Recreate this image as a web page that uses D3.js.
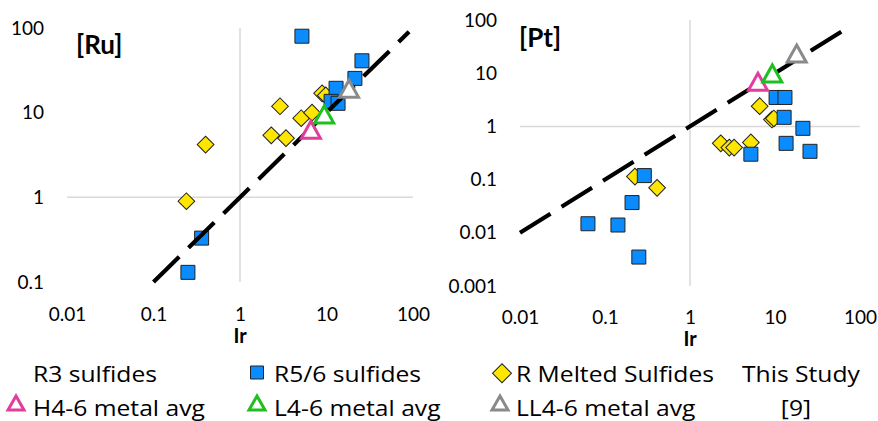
<!DOCTYPE html>
<html>
<head>
<meta charset="utf-8">
<script src="https://d3js.org/d3.v7.min.js"></script>
<style>
  body { margin: 0; background: #fff; }
  text { font-family: Lato, "Open Sans", sans-serif; fill: #000; }
  text.leg { font-family: "Open Sans", sans-serif; }
</style>
</head>
<body>
<svg id="chart" width="878" height="421"></svg>
<script>
// tick values and their labels
const xTicks = [0.01, 0.1, 1, 10, 100];
const xTickLabels = ["0.01", "0.1", "1", "10", "100"];
const ruTicks = [0.1, 1, 10, 100];
const ruTickLabels = ["0.1", "1", "10", "100"];
const ptTicks = [0.001, 0.01, 0.1, 1, 10, 100];
const ptTickLabels = ["0.001", "0.01", "0.1", "1", "10", "100"];

// [Ru] panel, points are [Ir, Ru]
const ruR56 = [[5.2, 80], [25.7, 41], [21.3, 25.4], [12.9, 19.4], [11.3, 13.6], [13.6, 12.9], [0.36, 0.33], [0.25, 0.13]];
const ruMelted = [[0.40, 4.2], [0.24, 0.9], [2.9, 11.9], [2.3, 5.4], [3.4, 5.0], [5.1, 8.6], [6.8, 10], [8.9, 16.9], [9.8, 16]];
const ruH = [[6.6, 6.3]];
const ruL = [[9.4, 9.5]];
const ruLL = [[18.2, 19.2]];
const ruOneToOne = [[0.1, 0.1], [90, 90]];

// [Pt] panel, points are [Ir, Pt]
const ptR56 = [[0.063, 0.0148], [0.142, 0.014], [0.208, 0.037], [0.29, 0.119], [0.25, 0.0035], [5.2, 0.30],
               [10.3, 3.5], [13.1, 3.5], [12.8, 1.48], [21.3, 0.92], [13.5, 0.48], [25.8, 0.34]];
const ptMelted = [[0.225, 0.114], [0.41, 0.07], [6.6, 2.4], [9.2, 1.35], [9.7, 1.41], [5.2, 0.5], [2.3, 0.48], [2.9, 0.40], [3.3, 0.40]];
const ptH = [[6.3, 6.9]];
const ptL = [[9.3, 9.9]];
const ptLL = [[18, 23.5]];
const ptOneToOne = [[0.01, 0.01], [65, 65]];

const legendLabels = ["R3 sulfides", "R5/6 sulfides", "R Melted Sulfides", "This Study",
                      "H4-6 metal avg", "L4-6 metal avg", "LL4-6 metal avg", "[9]"];

const blue = "#0a8cff", yellow = "#ffe600", pink = "#e23c9c", green = "#1fbf1f", gray = "#8a8a8a";

const svg = d3.select("#chart");

const squarePath = d3.symbol(d3.symbolSquare, 196)();
const diamondPath = d3.symbol(d3.symbolSquare, 140)();
function triPath(w, h) {
  return `M0,${-h / 2}L${w / 2},${h / 2}L${-w / 2},${h / 2}Z`;
}

function drawPanel(p) {
  const x = d3.scaleLog().domain([0.01, 100]).range([p.left, p.right]);
  const y = d3.scaleLog().domain(p.yDomain).range([p.bottom, p.top]);
  const g = svg.append("g");

  // gridlines at 1
  g.append("line")
    .attr("x1", x(0.01)).attr("x2", x(100))
    .attr("y1", y(1)).attr("y2", y(1))
    .attr("stroke", "#d9d9d9").attr("stroke-width", 1.5);
  g.append("line")
    .attr("x1", x(1)).attr("x2", x(1))
    .attr("y1", y(p.yDomain[0])).attr("y2", y(100))
    .attr("stroke", "#d9d9d9").attr("stroke-width", 1.5);

  const xa = g.append("g")
    .attr("transform", `translate(0,${p.xLabelTop})`)
    .call(d3.axisBottom(x).tickValues(xTicks).tickFormat((d, i) => xTickLabels[i]).tickSize(0).tickPadding(0));
  const ya = g.append("g")
    .attr("transform", `translate(${p.yLabelRight},0)`)
    .call(d3.axisLeft(y).tickValues(p.yTicks).tickFormat((d, i) => p.yTickLabels[i]).tickSize(0).tickPadding(0));
  [xa, ya].forEach(a => {
    a.select(".domain").remove();
    a.attr("font-size", 19);
    a.selectAll("text").attr("fill", "#000");
  });

  g.append("text")
    .attr("x", x(1)).attr("y", p.irBaseline)
    .attr("text-anchor", "middle")
    .attr("font-weight", "bold").attr("font-size", 20)
    .text("Ir");

  g.append("text")
    .attr("x", p.titleX).attr("y", p.titleBaseline)
    .attr("font-weight", "bold").attr("font-size", 26)
    .text(p.title);

  g.selectAll(".dia").data(p.melted).join("path")
    .attr("d", diamondPath)
    .attr("transform", d => `translate(${x(d[0])},${y(d[1])}) rotate(45)`)
    .attr("fill", yellow).attr("stroke", "#222").attr("stroke-width", 1);

  g.selectAll(".sq").data(p.r56).join("path")
    .attr("d", squarePath)
    .attr("transform", d => `translate(${x(d[0])},${y(d[1])})`)
    .attr("fill", blue).attr("stroke", "#222").attr("stroke-width", 1);

  g.append("path")
    .datum(p.oneToOne)
    .attr("d", d3.line().x(d => x(d[0])).y(d => y(d[1])))
    .attr("fill", "none").attr("stroke", "#000")
    .attr("stroke-width", 4.2).attr("stroke-dasharray", "36,13");

  [[p.h, pink], [p.l, green], [p.ll, gray]].forEach(([pts, col]) => {
    g.selectAll(null).data(pts).join("path")
      .attr("d", triPath(19, 17))
      .attr("transform", d => `translate(${x(d[0])},${y(d[1])})`)
      .attr("fill", "#fff").attr("stroke", col).attr("stroke-width", 3)
      .attr("stroke-linejoin", "miter");
  });
}

drawPanel({
  left: 67, right: 413, top: 28, bottom: 282, yDomain: [0.1, 100],
  yTicks: ruTicks, yTickLabels: ruTickLabels,
  xLabelTop: 307.5, yLabelRight: 44, irBaseline: 343,
  title: "[Ru]", titleX: 76, titleBaseline: 54,
  r56: ruR56, melted: ruMelted, h: ruH, l: ruL, ll: ruLL, oneToOne: ruOneToOne
});

drawPanel({
  left: 520, right: 860, top: 20, bottom: 286, yDomain: [0.001, 100],
  yTicks: ptTicks, yTickLabels: ptTickLabels,
  xLabelTop: 310.5, yLabelRight: 497, irBaseline: 346,
  title: "[Pt]", titleX: 519, titleBaseline: 47,
  r56: ptR56, melted: ptMelted, h: ptH, l: ptL, ll: ptLL, oneToOne: ptOneToOne
});

// legend (text is stretched wide in the original)
const lg = svg.append("g");
const colX = [33, 274, 516, 742];
const rowBase = [381.5, 415.5];
const legTexts = legendLabels.map((t, i) => lg.append("text")
  .attr("class", "leg")
  .attr("x", i === 7 ? 796 : colX[i % 4])
  .attr("y", rowBase[Math.floor(i / 4)])
  .attr("font-size", 21)
  .attr("text-anchor", i === 7 ? "middle" : "start")
  .text(t));
const k = 124 / legTexts[0].node().getComputedTextLength();
legTexts.forEach(t => {
  t.attr("textLength", t.node().getComputedTextLength() * k).attr("lengthAdjust", "spacingAndGlyphs");
});

lg.append("path").attr("d", d3.symbol(d3.symbolSquare, 169)())
  .attr("transform", "translate(257,372.5)")
  .attr("fill", blue).attr("stroke", "#222").attr("stroke-width", 1);
lg.append("path").attr("d", d3.symbol(d3.symbolSquare, 180)())
  .attr("transform", "translate(502,373.3) rotate(45)")
  .attr("fill", yellow).attr("stroke", "#222").attr("stroke-width", 1);
[[16, pink], [257, green], [500, gray]].forEach(([cx, col]) => {
  lg.append("path").attr("d", triPath(16, 14))
    .attr("transform", `translate(${cx},403)`)
    .attr("fill", "#fff").attr("stroke", col).attr("stroke-width", 3);
});
</script>
</body>
</html>
